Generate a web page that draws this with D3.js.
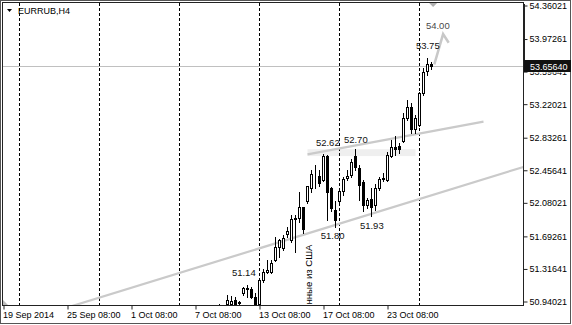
<!DOCTYPE html>
<html><head><meta charset="utf-8">
<script src="https://cdn.jsdelivr.net/npm/d3@7"></script>
<style>html,body{margin:0;padding:0;background:#fff;}svg{display:block;font-family:"Liberation Sans",Arial,sans-serif;}</style>
</head><body><svg id="c" width="572" height="325"></svg>
<script>
// ---- data ----
const symbol = "EURRUB,H4";
const firstBar = 54;
const opens  = [50.88,50.86,50.91,50.91,50.957,50.93,51.035,51.093,51.08,50.995,50.91,51.19,51.285,51.285,51.42,51.57,51.555,51.72,51.65,51.89,51.90,52.03,52.10,52.25,52.40,52.39,52.344,52.62,52.25,52.00,52.10,52.22,52.37,52.40,52.62,52.48,52.32,52.06,52.13,52.05,52.25,52.37,52.344,52.62,52.73,52.74,52.79,53.06,53.19,52.93,52.98,53.345,53.60,53.685];
const highs  = [50.915,50.90,51.015,51.00,50.995,50.945,51.11,51.13,51.11,51.035,51.197,51.313,51.42,51.42,51.69,51.66,51.71,51.80,51.94,51.94,52.20,52.035,52.28,52.46,52.52,52.46,52.65,52.63,52.26,52.10,52.22,52.38,52.46,52.59,52.70,52.52,52.34,52.14,52.25,52.30,52.38,52.42,52.67,52.805,52.85,52.77,53.12,53.27,53.23,53.10,53.36,53.64,53.75,53.71];
const lows   = [50.80,50.78,50.90,50.89,50.88,50.90,51.015,50.995,50.977,50.903,50.903,51.17,51.27,51.27,51.41,51.45,51.54,51.68,51.63,51.51,51.86,51.73,52.08,52.21,52.25,52.28,52.33,51.88,51.99,51.80,52.08,52.17,52.34,52.38,52.46,52.11,51.99,52.02,51.93,52.00,52.23,52.33,52.33,52.61,52.63,52.66,52.78,53.04,52.89,52.89,52.97,53.33,53.56,53.63];
const closes = [50.905,50.82,50.957,50.95,50.90,50.92,51.093,51.08,50.995,50.91,51.19,51.285,51.30,51.39,51.573,51.65,51.67,51.76,51.89,51.90,52.03,51.775,52.27,52.41,52.405,52.31,52.62,52.205,52.02,51.885,52.215,52.355,52.39,52.555,52.49,52.29,52.05,52.11,52.03,52.25,52.35,52.355,52.633,52.72,52.70,52.70,53.06,53.19,52.93,53.06,53.345,53.595,53.685,53.6564];

const priceTicks = [54.36021,53.97261,53.59641,53.22021,52.83261,52.45641,52.08021,51.69261,51.31641,50.94021];
const timeLabels = ["19 Sep 2014","25 Sep 08:00","1 Oct 08:00","7 Oct 08:00","13 Oct 08:00","17 Oct 08:00","23 Oct 08:00"];
const timeLabelBars = [0,16,32,48,64,80,96];
const separatorBars = [4,24,44,64,84,104];
const currentPrice = 53.65640;

const labelTexts  = ["54.00","53.75","52.62","52.70","51.93","51.80","51.14"];
const labelBars   = [105.6,103.1,78.1,85.1,89.1,79.3,57.1];
const labelPrices = [54.127,53.892,52.775,52.814,51.813,51.697,51.273];

const lowerChannelBars = [18,130], lowerChannelPrices = [50.90,52.495];
const upperChannelBars = [76,120], upperChannelPrices = [52.641,53.018];
const zoneBars = [76,103], zonePrices = [52.70,52.62];
const arrowBars = [107.7,109.9,111.3], arrowPrices = [53.68,54.03,53.93];
const newsBar = 77, newsPrice = 50.905, newsText = "нные из США";

// ---- layout ----
const L = 3, T = 3, R = 523, B = 305;
const svg = d3.select("#c");
const x = d3.scaleLinear().domain([0,130]).range([3.5,523.5]);
const y = d3.scaleLinear().domain([50.94021,54.36021]).range([301.5,5.5]);

svg.append("rect").attr("x",0).attr("y",0).attr("width",572).attr("height",325).attr("fill","#fff");
svg.append("rect").attr("x",0.5).attr("y",0.5).attr("width",570).attr("height",323).attr("fill","none").attr("stroke","#555");

const defs = svg.append("defs");
defs.append("clipPath").attr("id","plot").append("rect")
  .attr("x",L).attr("y",T).attr("width",R-L).attr("height",B-T);
const g = svg.append("g").attr("clip-path","url(#plot)");

// zone
g.append("rect").attr("x",x(zoneBars[0])).attr("y",y(zonePrices[0]))
  .attr("width",x(zoneBars[1])-x(zoneBars[0])).attr("height",y(zonePrices[1])-y(zonePrices[0]))
  .attr("fill","#efefef");

// separators
g.selectAll("line.sep").data(separatorBars).join("line").attr("class","sep")
  .attr("x1",d=>x(d)).attr("x2",d=>x(d)).attr("y1",T).attr("y2",B)
  .attr("stroke","#000").attr("stroke-dasharray","3,2");

// current price line
g.append("line").attr("x1",L).attr("x2",R).attr("y1",Math.round(y(currentPrice))+0.5).attr("y2",Math.round(y(currentPrice))+0.5)
  .attr("stroke","#c0c0c0");

// channels
const lineGen = d3.line().x(d=>x(d[0])).y(d=>y(d[1]));
function extend(bars, prices, b0, b1){
  const s=(prices[1]-prices[0])/(bars[1]-bars[0]);
  return [[b0, prices[0]+(b0-bars[0])*s],[b1, prices[0]+(b1-bars[0])*s]];
}
g.append("path").attr("d",lineGen(extend(lowerChannelBars,lowerChannelPrices,0,131))).attr("stroke","#cacaca").attr("stroke-width",2.2).attr("fill","none");
g.append("path").attr("d",lineGen(upperChannelBars.map((b,i)=>[b,upperChannelPrices[i]]))).attr("stroke","#cacaca").attr("stroke-width",2.2).attr("fill","none");

// arrow
g.append("path").attr("d",lineGen(arrowBars.map((b,i)=>[b,arrowPrices[i]]))).attr("stroke","#c8c8c8").attr("stroke-width",2.5).attr("fill","none").attr("stroke-linejoin","miter");

// candles
const bars = opens.map((o,i)=>({i:firstBar+i,o,h:highs[i],l:lows[i],c:closes[i]}));
const cg = g.append("g");
cg.selectAll("line.wick").data(bars).join("line").attr("class","wick")
  .attr("x1",d=>x(d.i)).attr("x2",d=>x(d.i))
  .attr("y1",d=>Math.round(y(d.h))).attr("y2",d=>Math.round(y(d.l))+1)
  .attr("stroke","#000");
cg.selectAll("rect.body").data(bars).join("rect").attr("class","body")
  .attr("x",d=>x(d.i)-1).attr("width",2)
  .attr("y",d=>Math.round(y(Math.max(d.o,d.c)))+0.5)
  .attr("height",d=>Math.max(0,Math.round(y(Math.min(d.o,d.c)))-Math.round(y(Math.max(d.o,d.c)))))
  .attr("fill",d=>d.c>=d.o?"#fff":"#000").attr("stroke","#000");

// text labels
g.selectAll("text.lab").data(labelTexts).join("text").attr("class","lab")
  .attr("x",(d,i)=>x(labelBars[i])).attr("y",(d,i)=>y(labelPrices[i]))
  .attr("dy","0.35em").attr("font-size",9.5).attr("fill",(d,i)=>i===0?"#4a4a4a":"#111").text(d=>d);

// news vertical text
svg.append("text").attr("transform",`translate(${x(newsBar)},${y(newsPrice)}) rotate(-90)`)
  .attr("text-anchor","start").attr("font-size",9.6).attr("fill","#000").text(newsText);

// shift marker
svg.append("path").attr("d",`M${x(107.4)-4},${T} L${x(107.4)+4},${T} L${x(107.4)},${T+4} Z`).attr("fill","#b0b0b0");
// bottom-left marker
svg.append("path").attr("d",`M${L},${B-5} L${L},${B} L${L+5},${B} Z`).attr("fill","#bbb");

// frame
svg.append("rect").attr("x",L-0.5).attr("y",T-0.5).attr("width",R-L+1).attr("height",B-T+1).attr("fill","none").attr("stroke","#222");
svg.append("rect").attr("x",R).attr("y",T+1).attr("width",2).attr("height",y(currentPrice)-T-6).attr("fill","#222");

// axes
const xa = svg.append("g").attr("transform",`translate(0,${B+0.5})`)
  .call(d3.axisBottom(x).tickValues(timeLabelBars).tickFormat((d,i)=>timeLabels[i]).tickSize(4).tickPadding(2));
xa.select(".domain").remove();
xa.selectAll("text").attr("text-anchor","start").attr("dx",-1).attr("font-size",9).attr("font-family","Liberation Sans, Arial, sans-serif").attr("fill","#000");
xa.selectAll("line").attr("stroke","#222");

const cy = y(currentPrice);
const ya = svg.append("g").attr("transform",`translate(${R+0.5},0)`)
  .call(d3.axisRight(y).tickValues(priceTicks).tickFormat(d3.format(".5f")).tickSize(4).tickPadding(2));
ya.select(".domain").remove();
ya.selectAll("text").attr("font-size",9).attr("font-family","Liberation Sans, Arial, sans-serif").attr("fill","#000");
ya.selectAll("line").attr("stroke","#222");
// the tick label lying under the current-price box only shows its lower edge
ya.selectAll(".tick").filter(d=>Math.abs(y(d)-cy)<10).each(function(d){
  const top = Math.round(cy)+6 - y(d);
  defs.append("clipPath").attr("id","hidden").append("rect")
    .attr("x",0).attr("y",top).attr("width",60).attr("height",10);
  d3.select(this).select("text").attr("clip-path","url(#hidden)");
});

// current price box
svg.append("rect").attr("x",R+1).attr("y",Math.round(cy)-6).attr("width",571-R-1).attr("height",12).attr("fill","#111");
svg.append("text").attr("x",R+7).attr("y",cy).attr("dy","0.35em").attr("font-size",9).attr("fill","#fff").text(d3.format(".5f")(currentPrice));

// title
svg.append("path").attr("d","M7,9 L12,9 L9.5,12 Z").attr("fill","#000");
svg.append("text").attr("x",18).attr("y",10.5).attr("dy","0.35em").attr("font-size",9).attr("fill","#000").text(symbol);
</script></body></html>
